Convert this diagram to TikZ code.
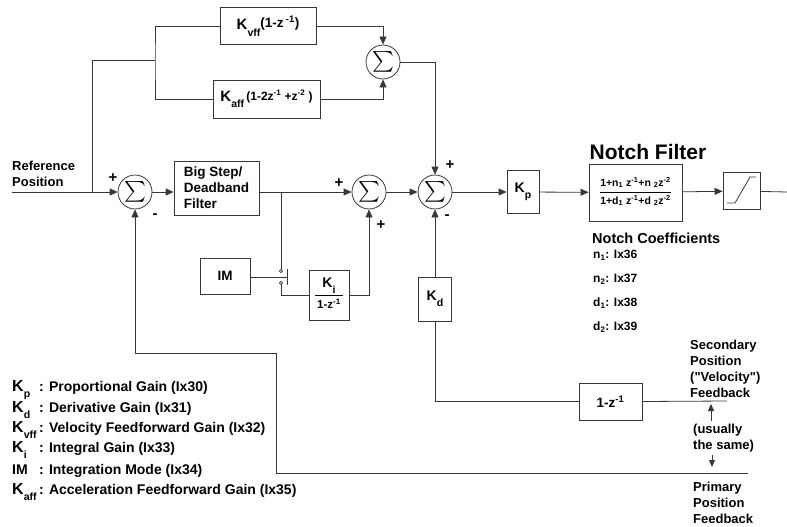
\documentclass[tikz,border=0pt]{standalone}
\usepackage{exscale}
\usepackage{fontspec}
\setmainfont{Liberation Sans}
\newfontfamily\plainquote{Liberation Sans}
\usepackage{xcolor}
\colorlet{colorWire}{black!78}
\usetikzlibrary{arrows.meta, positioning}
\newcommand{\gainsub}[1]{K\raisebox{-0.42em}{\fontsize{10.5}{10.5}\selectfont #1}}
\newcommand{\legsym}[1]{\makebox[27pt][l]{\fontsize{16}{16}\selectfont #1}}
\newcommand{\qmark}{{\plainquote\bfseries"}}
\tikzset{
  wire/.style={draw=colorWire, line width=0.8pt},
  block/.style={draw=colorWire, line width=0.8pt, rectangle, align=center},
  sumnode/.style={draw=colorWire, line width=0.8pt, circle, minimum size=34pt, font=\fontsize{19.5}{19.5}\selectfont},
  sign/.style={font=\bfseries\fontsize{15}{15}\selectfont},
  note/.style={anchor=west, align=left, font=\bfseries\fontsize{13}{16}\selectfont},
  legend/.style={anchor=west, font=\bfseries\fontsize{14}{14}\selectfont},
}

\begin{document}
\begin{tikzpicture}[x=1pt, y=-1pt, >={Triangle[length=8pt,width=7pt]}, every node/.style={inner sep=0pt, font=\bfseries\fontsize{13.5}{16}\selectfont}]
\useasboundingbox (0,0) rectangle (787,527);
\node[sumnode] (sumA) at (135,192) {\raisebox{-1.5pt}{$\sum$}};
\node[sumnode] (sumFF) at (383,62) {\raisebox{-1.5pt}{$\sum$}};
\node[sumnode] (sumI) at (369,192) {\raisebox{-1.5pt}{$\sum$}};
\node[sumnode] (sumB) at (435,192) {\raisebox{-1.5pt}{$\sum$}};
\node[block, minimum width=96pt, minimum height=37pt] (vff) at (268,26) {{\fontsize{15}{15}\selectfont\gainsub{vff}}\raisebox{2pt}{(1-z\,\textsuperscript{-1})}};
\node[block, minimum width=107pt, minimum height=38pt] (aff) at (266.5,99) {{\fontsize{15}{15}\selectfont\gainsub{aff}}\,{\fontsize{12}{12}\selectfont\raisebox{1pt}{(1-2z\textsuperscript{-1} +z\textsuperscript{-2} )}}};
\node[block, minimum width=85pt, minimum height=54pt, align=left] (bigstep) at (216.5,188) {Big Step/\\Deadband\\Filter};
\node[block, minimum width=50pt, minimum height=36pt] (im) at (225,276) {IM};
\node[block, minimum width=40pt, minimum height=50pt] (ki) at (329,295) {\begin{tabular}{@{\,}c@{\,}}{\fontsize{14}{14}\selectfont\gainsub{i}}\\[3pt]\hline\rule{0pt}{13pt}{\fontsize{11.5}{11.5}\selectfont 1-z\textsuperscript{-1}}\end{tabular}};
\node[block, minimum width=33pt, minimum height=44pt] (kd) at (435,299) {{\fontsize{14}{14}\selectfont\gainsub{d}}};
\node[block, minimum width=32pt, minimum height=43pt] (kp) at (523,192) {{\fontsize{14}{14}\selectfont\gainsub{p}}};
\node[block, minimum width=93pt, minimum height=57pt, font=\bfseries\fontsize{10.5}{12}\selectfont] (notch) at (635.5,192.5) {\begin{tabular}{@{}c@{}}1+n\textsubscript{1} z\textsuperscript{-1}+n \textsubscript{2}z\textsuperscript{-2}\\[2pt]\hline\rule{0pt}{12pt}1+d\textsubscript{1} z\textsuperscript{-1}+d \textsubscript{2}z\textsuperscript{-2}\end{tabular}};
\node[block, minimum size=37pt] (sat) at (741.5,191) {};
\node[block, minimum width=63pt, minimum height=37pt] (diff) at (610.5,401.5) {1-z\textsuperscript{-1}};

\coordinate (refin) at (12,192);
\coordinate (refsplit) at (92,192);
\coordinate (ffsplit) at (155,60);
\coordinate (tap) at (281,192);
\coordinate (swA) at (281,271);
\coordinate (swB) at (281,283);
\coordinate (swbar) at (287,277);
\coordinate (fbcorner) at (276,353);
\coordinate (secend) at (727,401);
\coordinate (primend) at (748,473);
\coordinate (out) at (787,192);
\coordinate (upA) at (711,421);
\coordinate (upB) at (711,404);
\coordinate (dnA) at (712,455);
\coordinate (dnB) at (712,467);

\draw[wire,->] (refin) -- (sumA.west);
\draw[wire] (refsplit) |- (ffsplit);
\draw[wire] (vff.west) -| (ffsplit) |- (aff.west);
\draw[wire,->] (vff.east) -| (sumFF.north);
\draw[wire,->] (aff.east) -| (sumFF.south);
\draw[wire,->] (sumFF.east) -| (sumB.north);
\draw[wire,->] (sumA.east) -- (sumA.east -| bigstep.west);
\draw[wire,->] (bigstep.east |- tap) -- (sumI.west);
\draw[wire] (tap) -- (swA);
\draw[wire] (swB) |- (ki.west);
\draw[wire] (im.east |- swbar) -- (swbar);
\draw[wire] (swbar) ++(0,-8) -- ++(0,16);
\draw[wire, fill=white, line width=0.6pt] (swA) circle (1.6pt) (swB) circle (1.6pt);
\draw[wire,->] (ki.east) -| (sumI.south);
\draw[wire,->] (sumI) -- (sumB);
\draw[wire,->] (sumB) -- (kp);
\draw[wire,->] (kp) -- (notch);
\draw[wire,->] (notch) -- (sat);
\draw[wire] (sat) -- (out);
\draw[wire] ([shift={(-14.5,12)}]sat.center) -- ++(8,0) -- ++(15,-26) -- ++(6,0);
\draw[wire,->] (kd.north) -- (sumB.south);
\draw[wire] (kd.south) |- (diff.west);
\draw[wire] (diff.east) -- (secend);
\draw[wire,->] (primend) -| (fbcorner) -| (sumA.south);
\draw[wire,-{Triangle[length=7pt,width=6pt]}] (upA) -- (upB);
\draw[wire,-{Triangle[length=7pt,width=6pt]}] (dnA) -- (dnB);

\node[sign] (plusA) at (113,178) {+};
\node[sign] (minusA) at (155,216) {-};
\node[sign] (plusI) at (339,183) {+};
\node[sign] (plusIb) at (381,225) {+};
\node[sign] (plusB) at (450,165) {+};
\node[sign] (minusB) at (447,217) {-};

\node[note] (reftxt) at (12,174) {Reference\\Position};
\node[font=\bfseries\fontsize{21}{21}\selectfont] (notchtitle) at (648,152) {Notch Filter};
\node[anchor=west, font=\bfseries\fontsize{14.5}{14.5}\selectfont] (coefhead) at (592,238) {Notch Coefficients};
\node[anchor=west, font=\bfseries\fontsize{12}{12}\selectfont] (cn1) at (593,255) {n\textsubscript{1}: Ix36};
\node[anchor=west, font=\bfseries\fontsize{12}{12}\selectfont] (cn2) at (593,279) {n\textsubscript{2}: Ix37};
\node[anchor=west, font=\bfseries\fontsize{12}{12}\selectfont] (cd1) at (593,303) {d\textsubscript{1}: Ix38};
\node[anchor=west, font=\bfseries\fontsize{12}{12}\selectfont] (cd2) at (593,327) {d\textsubscript{2}: Ix39};
\node[note] (sectxt) at (690,369) {Secondary\\Position\\(\qmark Velocity\qmark)\\Feedback};
\node[note] (sametxt) at (693,438) {(usually\\the same)};
\node[note] (primtxt) at (693,503) {Primary\\Position\\Feedback};

\node[legend] (lkp) at (12,390) {\legsym{\gainsub{p}}: Proportional Gain (Ix30)};
\node[legend] (lkd) at (12,410) {\legsym{\gainsub{d}}: Derivative Gain (Ix31)};
\node[legend] (lkvff) at (12,430) {\legsym{\gainsub{vff}}: Velocity Feedforward Gain (Ix32)};
\node[legend] (lki) at (12,450) {\legsym{\gainsub{i}}: Integral Gain (Ix33)};
\node[legend] (lim) at (12,471) {\legsym{\fontsize{14}{14}\selectfont IM}: Integration Mode (Ix34)};
\node[legend] (lkaff) at (12,492) {\legsym{\gainsub{aff}}: Acceleration Feedforward Gain (Ix35)};
\end{tikzpicture}
\end{document}
